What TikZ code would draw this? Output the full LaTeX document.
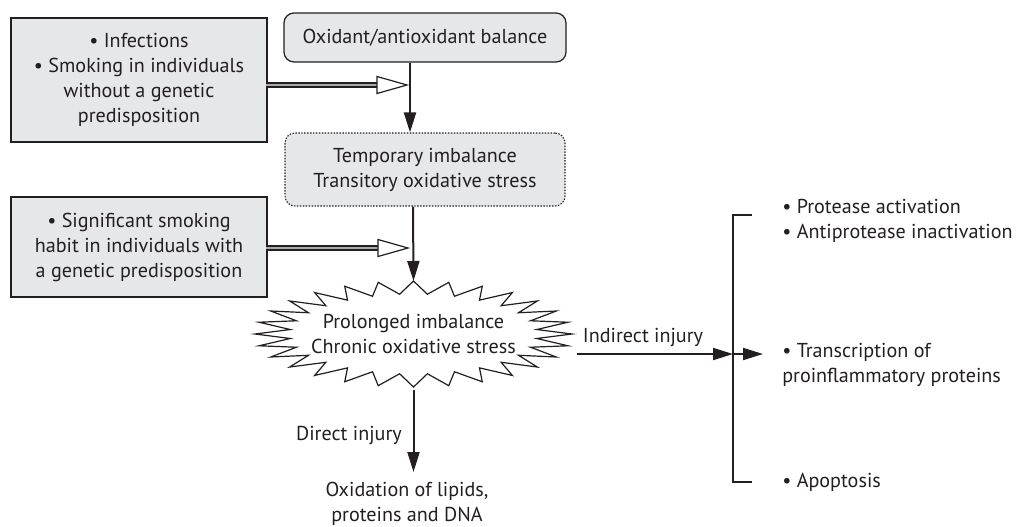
\documentclass[tikz,border=0pt]{standalone}
\usepackage{fontspec}
\setmainfont{PT Sans}
\usetikzlibrary{arrows.meta,calc}
\definecolor{ink}{HTML}{231F20}
\definecolor{boxgray}{HTML}{E6E7E8}
\definecolor{dblcore}{HTML}{A7A9AC}
\tikzset{
  every node/.style={text=ink, font=\fontsize{15.1pt}{18.75pt}\selectfont},
  graybox/.style={draw=ink, line width=0.9pt, fill=boxgray, align=center, inner sep=0pt},
  roundbox/.style={draw=ink, line width=0.9pt, fill=boxgray, rounded corners=7.5pt, align=center, inner sep=0pt},
  dotbox/.style={draw=ink, line width=0.8pt, dash pattern=on 1.1pt off 1.1pt, fill=boxgray, rounded corners=7.5pt, align=center, inner sep=0pt},
  arr/.style={draw=ink, line width=1.5pt, -{Triangle[length=15pt,width=9pt]}},
  dbl/.style={draw=ink, line width=4.2pt},
  dblin/.style={draw=dblcore, line width=1.6pt},
  openhead/.style={draw=ink, line width=0.9pt, fill=white, line join=miter},
  bracket/.style={draw=ink, line width=1.5pt},
  plain/.style={align=center, inner sep=0pt},
}
\begin{document}
\begin{tikzpicture}[x=0.75pt,y=-0.75pt]
\useasboundingbox (0,0) rectangle (1016,526);

% boxes
\node[graybox, minimum width=192pt, minimum height=93pt] (inf) at (139,80)
  {• Infections\\• Smoking in individuals\\without a genetic\\predisposition};
\node[graybox, minimum width=192pt, minimum height=75pt] (sig) at (139,247)
  {• Significant smoking\\habit in individuals with\\a genetic predisposition};
\node[roundbox, minimum width=211.5pt, minimum height=36.75pt] (bal) at (425,37.5)
  {Oxidant/antioxidant balance};
\node[dotbox, minimum width=210pt, minimum height=54.75pt] (tmp) at (425,169.5)
  {Temporary imbalance\\Transitory oxidative stress};

% starburst
\draw[draw=ink, line width=0.9pt, fill=white, line join=miter]
  plot[samples at={0,...,55}, variable=\k]
  ({413.5+ifthenelse(mod(\k,2)==0,158.5,124)*cos(90+\k*6.428571)},
   {334-ifthenelse(mod(\k,2)==0,53,40)*sin(90+\k*6.428571)}) -- cycle;
\node[plain] (burst) at (413.5,334) {Prolonged imbalance\\Chronic oxidative stress};
\coordinate (burstN) at (413.5,281);
\coordinate (burstS) at (413.5,390);
\coordinate (burstE) at (577,354);

% coordinates for junctions
\coordinate (j1) at (410,85);
\coordinate (j2) at (413,248);
\coordinate (h1) at (407,85);
\coordinate (h2) at (408,248);

% main vertical arrows
\draw[arr] (bal.south -| j1) -- (tmp.north -| j1);
\draw[arr] (tmp.south -| j2) -- (burstN);

% double open arrows
\draw[dbl] (inf.east |- h1) -- ($(h1)+(-30,0)$);
\draw[dblin] ([xshift=-1pt]inf.east |- h1) -- ($(h1)+(-29,0)$);
\draw[openhead] ($(h1)+(-30,-8.5)$) -- (h1) -- ($(h1)+(-30,8.5)$) -- cycle;
\draw[dbl] (sig.east |- h2) -- ($(h2)+(-30,0)$);
\draw[dblin] ([xshift=-1pt]sig.east |- h2) -- ($(h2)+(-29,0)$);
\draw[openhead] ($(h2)+(-30,-8.5)$) -- (h2) -- ($(h2)+(-30,8.5)$) -- cycle;

% direct injury
\node[plain] (ox) at (407,504) {Oxidation of lipids,\\proteins and DNA};
\coordinate (dEnd) at (413.5,472);
\draw[arr] (burstS) -- (dEnd);
\node[plain, anchor=east] (dlab) at (402,435) {Direct injury};

% indirect injury
\coordinate (brk) at (733,354);
\draw[arr] (burstE) -- (brk);
\node[plain] (ilab) at (643,337) {Indirect injury};
\coordinate (bt) at (733,215);
\coordinate (bb) at (733,482);
\draw[bracket] ($(bt)+(19,0)$) -- (bt) -- (bb) -- ($(bb)+(19,0)$);
\coordinate (aEnd) at (763,354);
\draw[arr] (brk) -- (aEnd);

% right list
\node[plain, anchor=west, align=left] (prot) at (782,221) {• Protease activation\\• Antiprotease inactivation};
\node[plain, anchor=west, align=left] (trans) at (782,364.5) {• Transcription of\\proinflammatory proteins};
\node[plain, anchor=west, align=left] (apo) at (782,482) {• Apoptosis};
\end{tikzpicture}
\end{document}
